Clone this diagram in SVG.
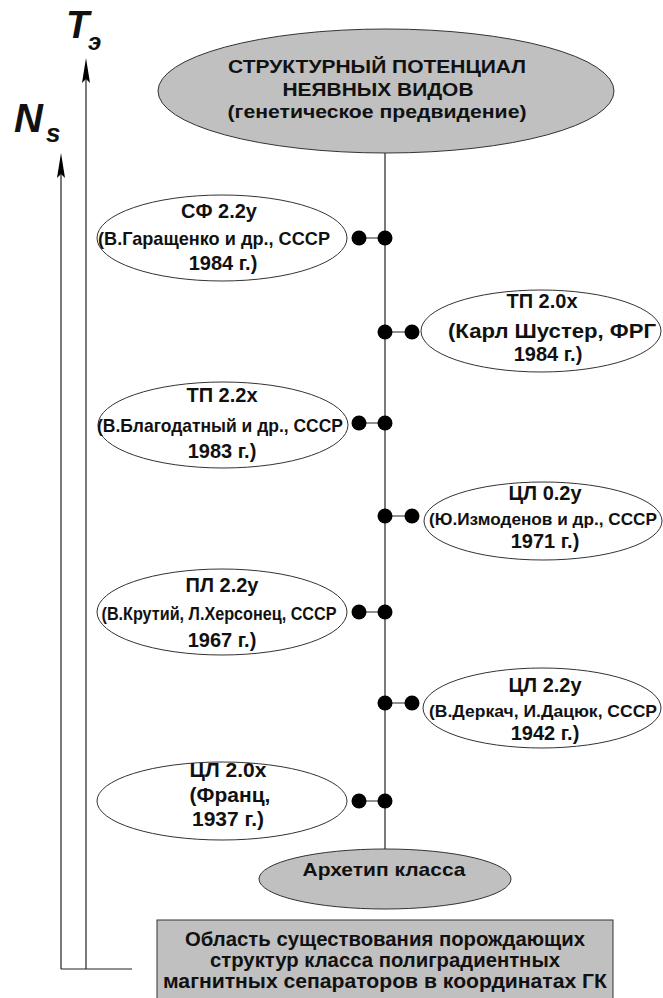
<svg xmlns="http://www.w3.org/2000/svg" width="663" height="998" viewBox="0 0 663 998">
<style>
text{font-family:"Liberation Sans",Arial,sans-serif;font-weight:bold;fill:#111;text-anchor:middle}
.gray{fill:#c0c0c0;stroke:#333;stroke-width:1}
.white{fill:#fff;stroke:#333;stroke-width:1}
.ln{stroke:#222;stroke-width:1.2;fill:none}
.dot{fill:#000}
.t{font-size:20px}
.s{font-size:19px}
.ax{font-style:italic;text-anchor:start}
</style>
<rect width="663" height="998" fill="#fff"/>
<g id="axes">
<path class="ln" d="M61,969 V170 M86,969 V75 M61,969 H132"/>
<polygon class="dot" points="86,58 82,83 86,79 90,83"/>
<polygon class="dot" points="61,153 57,178 61,174 65,178"/>
<text class="ax" x="66" y="38" font-size="38">T</text>
<text class="ax" x="88" y="50" font-size="24" font-style="normal">э</text>
<text class="ax" x="14" y="132" font-size="40">N</text>
<text class="ax" x="46" y="142" font-size="26">s</text>
</g>
<g id="connectors">
<path class="ln" d="M385,153 V850"/>
<path class="ln" d="M359,238 H385 M385,332 H412 M359,423 H385 M385,516 H412 M359,612 H385 M385,703 H412 M359,801 H385"/>
<g class="dot">
<circle cx="359" cy="238" r="7.5"/><circle cx="385" cy="238" r="7.5"/>
<circle cx="385" cy="332" r="7.5"/><circle cx="412" cy="332" r="7.5"/>
<circle cx="359" cy="423" r="7.5"/><circle cx="385" cy="423" r="7.5"/>
<circle cx="385" cy="516" r="7.5"/><circle cx="412" cy="516" r="7.5"/>
<circle cx="359" cy="612" r="7.5"/><circle cx="385" cy="612" r="7.5"/>
<circle cx="385" cy="703" r="7.5"/><circle cx="412" cy="703" r="7.5"/>
<circle cx="359" cy="801" r="7.5"/><circle cx="385" cy="801" r="7.5"/>
</g>
</g>
<g id="top">
<ellipse class="gray" cx="386" cy="91" rx="228" ry="62"/>
<text x="377" y="73" font-size="19" textLength="298" lengthAdjust="spacingAndGlyphs">СТРУКТУРНЫЙ ПОТЕНЦИАЛ</text>
<text x="378" y="96" font-size="19" textLength="191" lengthAdjust="spacingAndGlyphs">НЕЯВНЫХ ВИДОВ</text>
<text x="377" y="118" font-size="19" textLength="299" lengthAdjust="spacingAndGlyphs">(генетическое предвидение)</text>
</g>
<g id="n1">
<ellipse class="white" cx="222" cy="238" rx="125" ry="43"/>
<text class="t" x="219" y="218">СФ 2.2у</text>
<text class="s" x="214" y="245" textLength="232" lengthAdjust="spacingAndGlyphs">(В.Гаращенко и др., СССР</text>
<text class="t" x="223" y="270">1984 г.)</text>
</g>
<g id="n2">
<ellipse class="white" cx="541" cy="331" rx="120" ry="41"/>
<text class="t" x="542" y="308">ТП 2.0х</text>
<text class="t" x="552" y="338" textLength="208" lengthAdjust="spacingAndGlyphs">(Карл Шустер, ФРГ</text>
<text class="t" x="548" y="361">1984 г.)</text>
</g>
<g id="n3">
<ellipse class="white" cx="223" cy="425" rx="125" ry="43"/>
<text class="t" x="222" y="402">ТП 2.2х</text>
<text class="s" x="220" y="432" textLength="246" lengthAdjust="spacingAndGlyphs">(В.Благодатный и др., СССР</text>
<text class="t" x="222" y="458">1983 г.)</text>
</g>
<g id="n4">
<ellipse class="white" cx="543" cy="521" rx="119" ry="39"/>
<text class="t" x="545" y="500">ЦЛ 0.2у</text>
<text x="543" y="525" font-size="17" textLength="228" lengthAdjust="spacingAndGlyphs">(Ю.Измоденов и др., СССР</text>
<text class="t" x="545" y="548">1971 г.)</text>
</g>
<g id="n5">
<ellipse class="white" cx="222" cy="612" rx="125" ry="43"/>
<text class="t" x="222" y="592">ПЛ 2.2у</text>
<text class="s" x="219" y="620" textLength="235" lengthAdjust="spacingAndGlyphs">(В.Крутий, Л.Херсонец, СССР</text>
<text class="t" x="222" y="647">1967 г.)</text>
</g>
<g id="n6">
<ellipse class="white" cx="542" cy="708" rx="119" ry="40"/>
<text class="t" x="545" y="692">ЦЛ 2.2у</text>
<text x="543" y="717" font-size="17" textLength="228" lengthAdjust="spacingAndGlyphs">(В.Деркач, И.Дацюк, СССР</text>
<text class="t" x="545" y="740">1942 г.)</text>
</g>
<g id="n7">
<ellipse class="white" cx="222" cy="801" rx="125" ry="39"/>
<text x="228" y="777" font-size="21">ЦЛ 2.0х</text>
<text x="230" y="802" font-size="21">(Франц,</text>
<text x="228" y="826" font-size="21">1937 г.)</text>
</g>
<g id="archetype">
<ellipse class="gray" cx="385" cy="879" rx="126" ry="30"/>
<text x="384" y="876" font-size="19" textLength="163" lengthAdjust="spacingAndGlyphs">Архетип класса</text>
</g>
<g id="area">
<rect class="gray" x="157" y="920" width="456" height="90"/>
<text x="385" y="946" font-size="20" textLength="400" lengthAdjust="spacingAndGlyphs">Область существования порождающих</text>
<text x="385" y="967" font-size="20" textLength="350" lengthAdjust="spacingAndGlyphs">структур класса полиградиентных</text>
<text x="385" y="988" font-size="20" textLength="444" lengthAdjust="spacingAndGlyphs">магнитных сепараторов в координатах ГК</text>
</g>
</svg>
